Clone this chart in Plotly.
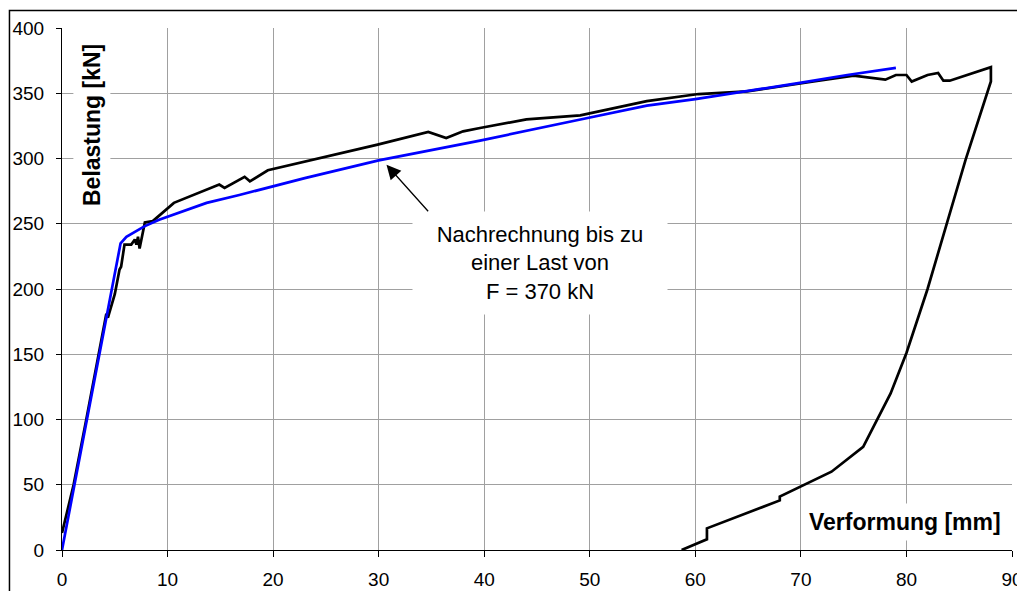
import plotly.graph_objects as go

# Measured curve (Versuch)
black_x = [0, 1.1, 2.3, 4.2, 4.35, 5.0, 5.45, 5.6, 5.92, 6.56, 6.9, 7.05, 7.2, 7.35, 7.85, 8.6,
           10.6, 14.9, 15.4, 17.3, 17.8, 19.5, 29.9, 34.7, 36.4, 38.0, 39.6, 44.0, 49.1,
           55.4, 60.3, 64.9, 71.2, 73.7, 75.0, 78.0, 79.0, 80.0, 80.5, 82.0, 83.0, 83.5,
           84.1, 88.0, 88.0, 85.6, 83.8, 82.0, 80.0, 78.5, 75.9, 72.9, 68.0, 68.0, 61.1,
           61.1, 58.7]
black_y = [13, 50, 100, 181, 178, 196, 215, 217, 234, 234, 238, 234, 240, 231, 251, 252,
           266, 280, 277.4, 286, 282.5, 291, 310.6, 320.3, 315.7, 320.8, 323.4, 330, 333,
           344, 349.4, 351.4, 359, 362, 363.5, 360.4, 364, 364, 359, 364, 365.5, 359.6,
           359.6, 370, 359, 299, 249, 200, 151, 120, 79, 60, 41, 38, 16.6,
           8.2, 0]

# Recalculation (Nachrechnung)
blue_x = [0, 5.55, 6.1, 7.8, 9.2, 13.7, 16.8, 23, 30, 39.6, 49, 55.4, 60, 64.9, 69.9, 74.4, 79]
blue_y = [0, 235, 240, 248, 253, 266, 272, 285, 298.6, 313.7, 329.7, 340.5, 345.5, 351.4, 357.9, 364, 369.4]

x_ticks = [0, 10, 20, 30, 40, 50, 60, 70, 80, 90]
y_ticks = [0, 50, 100, 150, 200, 250, 300, 350, 400]

FONT = "Liberation Sans, Arial, sans-serif"

fig = go.Figure()
fig.add_trace(go.Scatter(x=black_x, y=black_y, mode="lines",
                         line=dict(color="#000000", width=2.7), showlegend=False))
fig.add_trace(go.Scatter(x=blue_x, y=blue_y, mode="lines",
                         line=dict(color="#0000FF", width=2.7), showlegend=False))

fig.update_layout(
    width=1017, height=591,
    margin=dict(l=62, r=5, t=28, b=41, autoexpand=False),
    paper_bgcolor="white", plot_bgcolor="white",
    font=dict(family=FONT, size=19, color="black"),
    xaxis=dict(range=[0, 90], tickvals=x_ticks, showgrid=True, gridcolor="#a0a0a0", gridwidth=1,
               zeroline=False, showline=True, linecolor="black", linewidth=1,
               ticks="outside", ticklen=6, tickcolor="black", ticklabelstandoff=6,
               ticklabeloverflow="allow", automargin=False),
    yaxis=dict(range=[0, 400], tickvals=y_ticks, showgrid=True, gridcolor="#a0a0a0", gridwidth=1,
               zeroline=False, showline=True, linecolor="black", linewidth=1,
               ticks="outside", ticklen=5, tickcolor="black", ticklabelstandoff=8,
               automargin=False),
)

# outer chart frame
fig.add_shape(type="rect", xref="paper", yref="paper", x0=-0.0553, x1=1.2, y0=-0.3, y1=1.0336,
              line=dict(color="black", width=1.5), fillcolor="rgba(0,0,0,0)", layer="above")

# axis titles inside plot with white boxes
fig.add_annotation(xref="paper", yref="paper", x=0.031, y=0.815, xanchor="center", yanchor="middle",
                   text="<b>Belastung [kN]</b>",
                   textangle=-90, showarrow=False, bgcolor="white", borderpad=5,
                   font=dict(family=FONT, size=23, color="black"))
fig.add_annotation(xref="paper", yref="paper", x=0.8876, y=0.0537, xanchor="center", yanchor="middle",
                   text="<b>Verformung [mm]</b>",
                   showarrow=False, bgcolor="white", borderpad=5,
                   font=dict(family=FONT, size=23, color="black"))

# callout text
fig.add_annotation(x=45.27, y=220, xref="x", yref="y", xanchor="center", yanchor="middle",
                   text="Nachrechnung bis zu<br>einer Last von<br>F = 370 kN",
                   showarrow=False, bgcolor="white", width=252, height=100, align="center",
                   font=dict(family=FONT, size=22, color="black"))
# arrow
fig.add_annotation(x=30.74, y=295.2, xref="x", yref="y", ax=43, ay=48, text="",
                   showarrow=True, arrowhead=2, arrowsize=2.2, arrowwidth=1.3, arrowcolor="black")

fig.write_html("out.html")
